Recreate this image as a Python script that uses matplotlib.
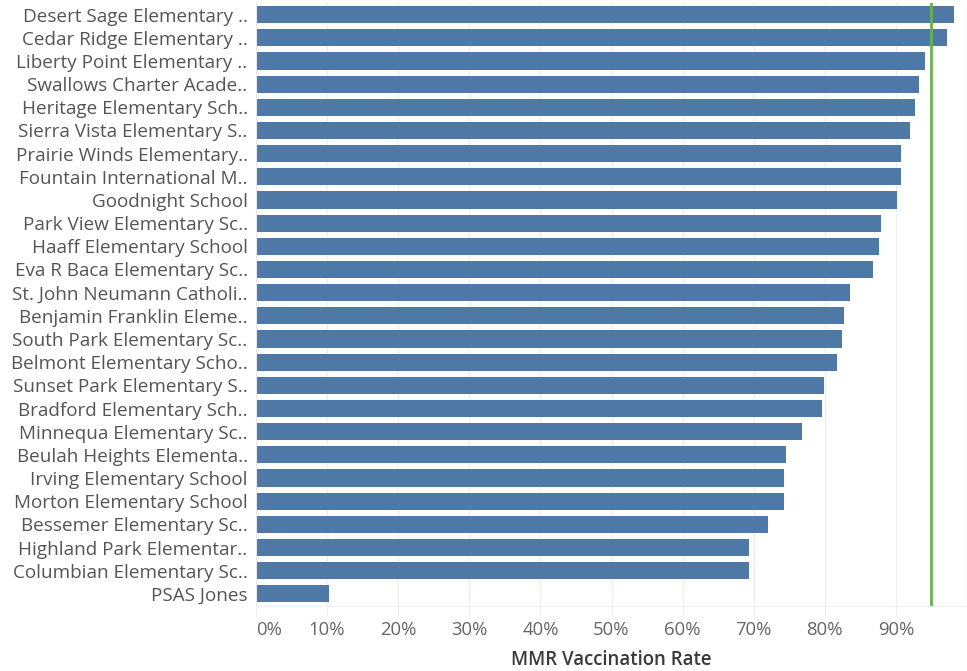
import matplotlib
matplotlib.use("Agg")
import matplotlib.pyplot as plt

schools = [
    "Desert Sage Elementary ..",
    "Cedar Ridge Elementary ..",
    "Liberty Point Elementary ..",
    "Swallows Charter Acade..",
    "Heritage Elementary Sch..",
    "Sierra Vista Elementary S..",
    "Prairie Winds Elementary..",
    "Fountain International M..",
    "Goodnight School",
    "Park View Elementary Sc..",
    "Haaff Elementary School",
    "Eva R Baca Elementary Sc..",
    "St. John Neumann Catholi..",
    "Benjamin Franklin Eleme..",
    "South Park Elementary Sc..",
    "Belmont Elementary Scho..",
    "Sunset Park Elementary S..",
    "Bradford Elementary Sch..",
    "Minnequa Elementary Sc..",
    "Beulah Heights Elementa..",
    "Irving Elementary School",
    "Morton Elementary School",
    "Bessemer Elementary Sc..",
    "Highland Park Elementar..",
    "Columbian Elementary Sc..",
    "PSAS Jones",
]
rates = [0.982, 0.972, 0.941, 0.932, 0.927, 0.920, 0.907, 0.907, 0.901, 0.879,
         0.876, 0.868, 0.835, 0.827, 0.824, 0.817, 0.799, 0.796, 0.768, 0.746,
         0.742, 0.742, 0.720, 0.693, 0.693, 0.103]
target = 0.95
ticks = [0.0, 0.1, 0.2, 0.3, 0.4, 0.5, 0.6, 0.7, 0.8, 0.9]

plt.rcParams['font.family'] = ['Open Sans', 'DejaVu Sans']

fig = plt.figure(figsize=(9.67, 6.71), dpi=100)
ax = fig.add_axes([256/967, 1-605.5/671, (967-256)/967, (605.5-3)/671])

y = list(range(len(schools)))
ax.barh(y, rates, height=0.74, color="#4e79a7", zorder=2)
ax.axvline(target, color="#6ab04c", lw=2, zorder=3)
ax.set_ylim(len(schools)-0.5, -0.5)
ax.set_xlim(0, 1.0)
ax.set_yticks(y)
ax.set_yticklabels(schools, fontsize=13.6, color="#555555")
ax.set_xticks(ticks + [1.0])
ax.set_xticklabels([f"{int(round(t*100))}%" for t in ticks] + [""], fontsize=13.3, color="#666666")
ax.tick_params(axis='y', length=0, pad=6)
ax.tick_params(axis='x', length=7, color="#eeeeee", pad=4)
for lab in ax.get_xticklabels():
    if lab.get_text() == "0%":
        lab.set_horizontalalignment('left')
ax.grid(axis='x', color="#eeeeee", lw=1, zorder=0)
for s in ['top', 'right']:
    ax.spines[s].set_visible(False)
ax.spines['left'].set_color("#e6e6e6")
ax.spines['bottom'].set_color("#eeeeee")
ax.set_xlabel("MMR Vaccination Rate", fontsize=13.4, color="#3a3a3a", fontweight='semibold', labelpad=8)

fig.savefig("out.png", dpi=100)
